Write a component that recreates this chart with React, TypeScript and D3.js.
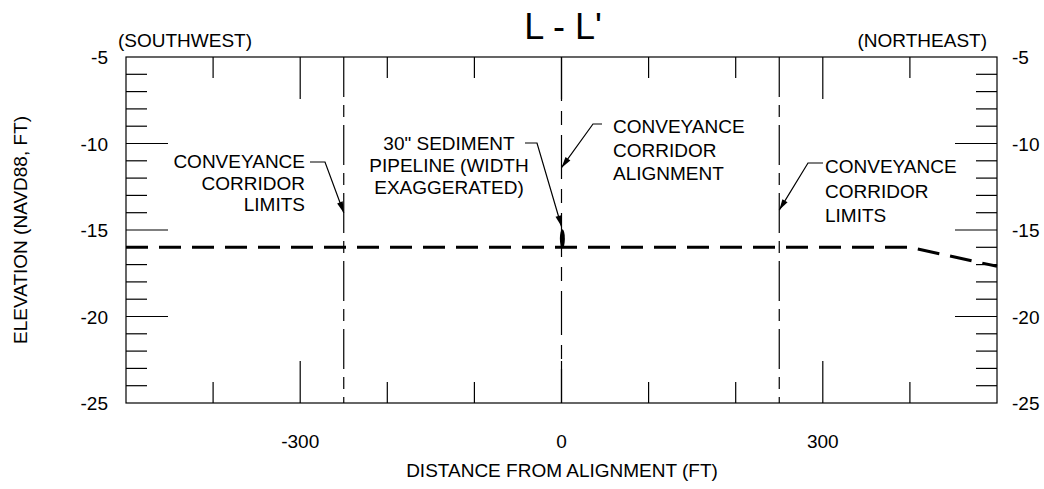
import React from "react";
import * as d3 from "d3";

// ---- data ----
const xDomain = [-500, 500];
const yDomain = [-5, -25];
const yTickLabels = [-5, -10, -15, -20, -25];
const yMajorTicks = [-10, -15, -20];
const yMinorTicks = [-6, -7, -8, -9, -11, -12, -13, -14, -16, -17, -18, -19, -21, -22, -23, -24];
const xTickLabels = [-300, 0, 300];
const xMajorTicks = [-300, 0, 300];
const xMinorTicks = [-400, -200, -100, 100, 200, 400];
const groundX = [-500, 400, 500];
const groundY = [-16, -16, -17.1];
const corridorLimits = [-250, 250];
const alignmentX = 0;
const pipelineCenter = [1, -15.5];
const pipelineHalfHeight = 0.55;

const leftLimitText = ["CONVEYANCE", "CORRIDOR", "LIMITS"];
const pipelineText = ['30" SEDIMENT', "PIPELINE (WIDTH", "EXAGGERATED)"];
const alignmentText = ["CONVEYANCE", "CORRIDOR", "ALIGNMENT"];
const rightLimitText = ["CONVEYANCE", "CORRIDOR", "LIMITS"];
const arrowTips = [
  [-250, -14.0],
  [0, -14.8],
  [0, -11.4],
  [250, -13.85],
];

const FONT = "'Liberation Sans', Arial, Helvetica, sans-serif";

export default function App() {
  const W = 1044, H = 489;
  const L = 126, R = 997, T = 57, B = 403;
  const x = d3.scaleLinear().domain(xDomain).range([L, R]);
  const y = d3.scaleLinear().domain(yDomain).range([T, B]);

  const ground = d3
    .line<number>()
    .x((d, i) => x(groundX[i]))
    .y((d, i) => y(groundY[i]))(groundX);

  const minorLen = 21, majorLen = 42;

  const arrow = (pts: number[][], key: string) => {
    const n = pts.length;
    const [x1, y1] = pts[n - 2];
    const [x2, y2] = pts[n - 1];
    const a = Math.atan2(y2 - y1, x2 - x1);
    const len = 11, hw = 3;
    const bx = x2 - len * Math.cos(a), by = y2 - len * Math.sin(a);
    const p1 = [bx + hw * Math.sin(a), by - hw * Math.cos(a)];
    const p2 = [bx - hw * Math.sin(a), by + hw * Math.cos(a)];
    return (
      <g key={key}>
        <polyline
          points={pts.map((p) => p.join(",")).join(" ")}
          fill="none"
          stroke="#000"
          strokeWidth={1.2}
        />
        <polygon points={`${x2},${y2} ${p1.join(",")} ${p2.join(",")}`} fill="#000" />
      </g>
    );
  };

  const tipPx = arrowTips.map((t) => [x(t[0]), y(t[1])]);

  const textBlock = (
    lines: string[],
    tx: number,
    ty0: number,
    dy: number,
    anchor: string,
    key: string
  ) => (
    <text key={key} fontFamily={FONT} fontSize={19} textAnchor={anchor} fill="#000">
      {lines.map((l, i) => (
        <tspan key={i} x={tx} y={ty0 + i * dy}>
          {l}
        </tspan>
      ))}
    </text>
  );

  return (
    <svg width={W} height={H} style={{ position: "absolute", left: 0, top: 0, background: "#fff" }}>
      <rect x={0} y={0} width={W} height={H} fill="#fff" />
      {/* title */}
      <text x={563} y={39} fontFamily={FONT} fontSize={36} textAnchor="middle">
        L - L'
      </text>
      <text x={118} y={47} fontFamily={FONT} fontSize={19}>
        (SOUTHWEST)
      </text>
      <text x={987} y={47} fontFamily={FONT} fontSize={19} textAnchor="end">
        (NORTHEAST)
      </text>

      {/* frame */}
      <rect x={L} y={T} width={R - L} height={B - T} fill="none" stroke="#000" strokeWidth={1.2} />

      {/* y ticks */}
      {yMinorTicks.concat(yMajorTicks).map((v) => {
        const len = yMajorTicks.includes(v) ? majorLen : minorLen;
        return (
          <g key={"yt" + v}>
            <line x1={L} x2={L + len} y1={y(v)} y2={y(v)} stroke="#000" strokeWidth={1.2} />
            <line x1={R} x2={R - len} y1={y(v)} y2={y(v)} stroke="#000" strokeWidth={1.2} />
          </g>
        );
      })}
      {yTickLabels.map((v) => (
        <g key={"yl" + v}>
          <text x={108} y={y(v) + 7} fontFamily={FONT} fontSize={19} textAnchor="end">
            {v}
          </text>
          <text x={1012} y={y(v) + 7} fontFamily={FONT} fontSize={19}>
            {v}
          </text>
        </g>
      ))}

      {/* x ticks */}
      {xMinorTicks.concat(xMajorTicks).map((v) => {
        const len = xMajorTicks.includes(v) ? majorLen : minorLen;
        return (
          <g key={"xt" + v}>
            <line x1={x(v)} x2={x(v)} y1={T} y2={T + len} stroke="#000" strokeWidth={1.2} />
            <line x1={x(v)} x2={x(v)} y1={B} y2={B - len} stroke="#000" strokeWidth={1.2} />
          </g>
        );
      })}
      {xTickLabels.map((v) => (
        <text key={"xl" + v} x={x(v)} y={448} fontFamily={FONT} fontSize={19} textAnchor="middle">
          {v}
        </text>
      ))}

      {/* axis titles */}
      <text x={562} y={477} fontFamily={FONT} fontSize={19} textAnchor="middle">
        DISTANCE FROM ALIGNMENT (FT)
      </text>
      <text
        transform={`translate(27,${(T + B) / 2}) rotate(-90)`}
        fontFamily={FONT}
        fontSize={19}
        textAnchor="middle"
      >
        ELEVATION (NAVD88, FT)
      </text>

      {/* corridor limit and alignment lines */}
      {corridorLimits.map((v) => (
        <line
          key={"cl" + v}
          x1={x(v)}
          x2={x(v)}
          y1={T}
          y2={B}
          stroke="#000"
          strokeWidth={1.2}
          strokeDasharray="40,8,12,8"
        />
      ))}
      <line
        x1={x(alignmentX)}
        x2={x(alignmentX)}
        y1={T}
        y2={B}
        stroke="#000"
        strokeWidth={1.2}
        strokeDasharray="44,10,14,10"
      />

      {/* ground line */}
      <path d={ground || ""} fill="none" stroke="#000" strokeWidth={3} strokeDasharray="22,11" />

      {/* pipeline */}
      <ellipse
        cx={x(pipelineCenter[0])}
        cy={y(pipelineCenter[1])}
        rx={2.5}
        ry={y(pipelineCenter[1] - pipelineHalfHeight) - y(pipelineCenter[1])}
        fill="#000"
      />

      {/* annotations */}
      {textBlock(leftLimitText, 305, 168, 21.5, "end", "t1")}
      {arrow([[310, 162], [325, 162], tipPx[0]], "a1")}

      {textBlock(pipelineText, 449, 150, 22, "middle", "t2")}
      {arrow([[525, 143], [537, 143], tipPx[1]], "a2")}

      {textBlock(alignmentText, 613, 133, 23.5, "start", "t3")}
      {arrow([[602, 124], [593, 124], tipPx[2]], "a3")}

      {textBlock(rightLimitText, 825, 173, 24.5, "start", "t4")}
      {arrow([[823, 163], [808, 163], tipPx[3]], "a4")}
    </svg>
  );
}
